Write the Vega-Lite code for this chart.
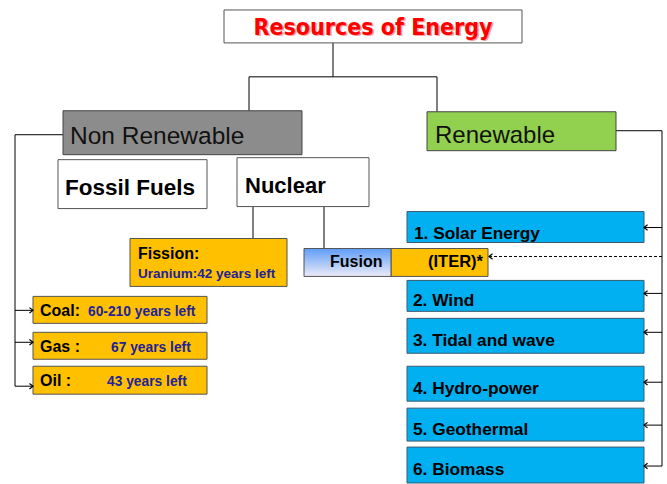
{
  "$schema": "https://vega.github.io/schema/vega-lite/v6.json",
  "width": 667,
  "height": 484,
  "padding": 0,
  "autosize": {"type": "fit", "contains": "padding"},
  "background": "white",
  "config": {"view": {"stroke": null}},
  "datasets": {
    "boxes": [
      {"id": "title", "x": 224, "x2": 522, "y": 10, "y2": 43, "fill": "#ffffff", "stroke": "#555555"},
      {"id": "nonren", "x": 63, "x2": 302, "y": 111, "y2": 155, "fill": "#8c8c8c", "stroke": "#444444"},
      {"id": "ren", "x": 427, "x2": 616, "y": 112, "y2": 151, "fill": "#92d050", "stroke": "#444444"},
      {"id": "fossil", "x": 58, "x2": 207, "y": 160, "y2": 209, "fill": "#ffffff", "stroke": "#555555"},
      {"id": "nuclear", "x": 237, "x2": 369, "y": 158, "y2": 207, "fill": "#ffffff", "stroke": "#555555"},
      {"id": "fission", "x": 130, "x2": 287, "y": 239, "y2": 287, "fill": "#ffc000", "stroke": "#555555"},
      {"id": "iter", "x": 391, "x2": 488, "y": 249, "y2": 277, "fill": "#ffc000", "stroke": "#555555"},
      {"id": "coal", "x": 33, "x2": 207, "y": 297, "y2": 324, "fill": "#ffc000", "stroke": "#555555"},
      {"id": "gas", "x": 33, "x2": 207, "y": 333, "y2": 360, "fill": "#ffc000", "stroke": "#555555"},
      {"id": "oil", "x": 33, "x2": 207, "y": 367, "y2": 395, "fill": "#ffc000", "stroke": "#555555"},
      {"id": "solar", "x": 407, "x2": 644, "y": 212, "y2": 243, "fill": "#00b0f0", "stroke": "#3a5a70"},
      {"id": "wind", "x": 407, "x2": 644, "y": 281, "y2": 312, "fill": "#00b0f0", "stroke": "#3a5a70"},
      {"id": "tidal", "x": 407, "x2": 644, "y": 319, "y2": 354, "fill": "#00b0f0", "stroke": "#3a5a70"},
      {"id": "hydro", "x": 407, "x2": 644, "y": 367, "y2": 402, "fill": "#00b0f0", "stroke": "#3a5a70"},
      {"id": "geo", "x": 407, "x2": 644, "y": 409, "y2": 442, "fill": "#00b0f0", "stroke": "#3a5a70"},
      {"id": "bio", "x": 407, "x2": 644, "y": 448, "y2": 484, "fill": "#00b0f0", "stroke": "#3a5a70"}
    ],
    "fusion": [
      {"id": "fusion", "x": 304, "x2": 391, "y": 249, "y2": 277}
    ],
    "lines": [
      {"x": 333, "x2": 333, "y": 43, "y2": 77},
      {"x": 249, "x2": 437, "y": 77, "y2": 77},
      {"x": 249, "x2": 249, "y": 77, "y2": 111},
      {"x": 437, "x2": 437, "y": 77, "y2": 112},
      {"x": 616, "x2": 662, "y": 131, "y2": 131},
      {"x": 662, "x2": 662, "y": 131, "y2": 467},
      {"x": 63, "x2": 15, "y": 135, "y2": 135},
      {"x": 15, "x2": 15, "y": 135, "y2": 387},
      {"x": 253, "x2": 253, "y": 207, "y2": 239},
      {"x": 324, "x2": 324, "y": 207, "y2": 249},
      {"x": 15, "x2": 33, "y": 311, "y2": 311},
      {"x": 15, "x2": 33, "y": 343, "y2": 343},
      {"x": 15, "x2": 33, "y": 387, "y2": 387},
      {"x": 662, "x2": 644, "y": 228, "y2": 228},
      {"x": 662, "x2": 644, "y": 294, "y2": 294},
      {"x": 662, "x2": 644, "y": 333, "y2": 333},
      {"x": 662, "x2": 644, "y": 383, "y2": 383},
      {"x": 662, "x2": 644, "y": 426, "y2": 426},
      {"x": 662, "x2": 644, "y": 467, "y2": 467}
    ],
    "dashed": [
      {"x": 662, "x2": 489, "y": 257, "y2": 257}
    ],
    "arrows": [
      {"x": 33, "y": 311, "shape": "M -1.3 -1 L 0 0 L -1.3 1"},
      {"x": 33, "y": 343, "shape": "M -1.3 -1 L 0 0 L -1.3 1"},
      {"x": 33, "y": 387, "shape": "M -1.3 -1 L 0 0 L -1.3 1"},
      {"x": 644, "y": 228, "shape": "M 1.3 -1 L 0 0 L 1.3 1"},
      {"x": 644, "y": 294, "shape": "M 1.3 -1 L 0 0 L 1.3 1"},
      {"x": 644, "y": 333, "shape": "M 1.3 -1 L 0 0 L 1.3 1"},
      {"x": 644, "y": 383, "shape": "M 1.3 -1 L 0 0 L 1.3 1"},
      {"x": 644, "y": 426, "shape": "M 1.3 -1 L 0 0 L 1.3 1"},
      {"x": 644, "y": 467, "shape": "M 1.3 -1 L 0 0 L 1.3 1"},
      {"x": 489, "y": 257, "shape": "M 1.3 -1 L 0 0 L 1.3 1"}
    ],
    "title": [
      {"x": 373, "y": 35, "text": "Resources of Energy"}
    ],
    "plain": [
      {"x": 70, "y": 144, "text": "Non Renewable", "size": 24.5},
      {"x": 435, "y": 143, "text": "Renewable", "size": 24}
    ],
    "bold": [
      {"x": 65, "y": 195, "text": "Fossil Fuels", "size": 22.5, "color": "#000000"},
      {"x": 245, "y": 193, "text": "Nuclear", "size": 22, "color": "#000000"},
      {"x": 138, "y": 260, "text": "Fission:", "size": 16, "color": "#000000"},
      {"x": 138, "y": 279, "text": "Uranium:42 years left", "size": 13.5, "color": "#22229a"},
      {"x": 330, "y": 268, "text": "Fusion", "size": 16, "color": "#000000"},
      {"x": 428, "y": 268, "text": "(ITER)*", "size": 16.5, "color": "#000000"},
      {"x": 40, "y": 317, "text": "Coal:", "size": 16, "color": "#000000"},
      {"x": 88, "y": 317, "text": "60-210 years left", "size": 13.8, "color": "#22229a"},
      {"x": 40, "y": 353, "text": "Gas :", "size": 16, "color": "#000000"},
      {"x": 111, "y": 353, "text": "67 years left", "size": 13.8, "color": "#22229a"},
      {"x": 40, "y": 387, "text": "Oil   :", "size": 16, "color": "#000000"},
      {"x": 107, "y": 387, "text": "43 years left", "size": 13.8, "color": "#22229a"},
      {"x": 414, "y": 239, "text": "1. Solar Energy", "size": 17.3, "color": "#000000"},
      {"x": 413, "y": 307, "text": "2. Wind", "size": 17.3, "color": "#000000"},
      {"x": 413, "y": 347, "text": "3. Tidal and wave", "size": 17.3, "color": "#000000"},
      {"x": 413, "y": 395, "text": "4. Hydro-power", "size": 17.3, "color": "#000000"},
      {"x": 413, "y": 436, "text": "5. Geothermal", "size": 17.3, "color": "#000000"},
      {"x": 413, "y": 476, "text": "6. Biomass", "size": 17.3, "color": "#000000"}
    ]
  },
  "encoding": {
    "x": {"field": "x", "type": "quantitative", "axis": null, "scale": {"domain": [0, 667], "nice": false, "zero": false}},
    "y": {"field": "y", "type": "quantitative", "axis": null, "scale": {"domain": [0, 484], "nice": false, "zero": false, "reverse": true}}
  },
  "layer": [
    {
      "data": {"name": "lines"},
      "mark": {"type": "rule", "color": "#000000", "strokeWidth": 1},
      "encoding": {"x2": {"field": "x2"}, "y2": {"field": "y2"}}
    },
    {
      "data": {"name": "dashed"},
      "mark": {"type": "rule", "color": "#000000", "strokeWidth": 1, "strokeDash": [3, 2]},
      "encoding": {"x2": {"field": "x2"}, "y2": {"field": "y2"}}
    },
    {
      "data": {"name": "boxes"},
      "mark": {"type": "rect", "strokeWidth": 1},
      "encoding": {
        "x2": {"field": "x2"},
        "y2": {"field": "y2"},
        "color": {"field": "fill", "type": "nominal", "scale": null},
        "stroke": {"field": "stroke", "type": "nominal", "scale": null}
      }
    },
    {
      "data": {"name": "fusion"},
      "mark": {
        "type": "rect",
        "stroke": "#555555",
        "strokeWidth": 1,
        "fill": {
          "gradient": "linear",
          "x1": 0, "y1": 0, "x2": 0, "y2": 1,
          "stops": [
            {"offset": 0, "color": "#5f9df7"},
            {"offset": 1, "color": "#ecebf7"}
          ]
        }
      },
      "encoding": {"x2": {"field": "x2"}, "y2": {"field": "y2"}}
    },
    {
      "data": {"name": "arrows"},
      "mark": {"type": "point", "filled": false, "stroke": "#000000", "strokeWidth": 1.2, "size": 30, "opacity": 1},
      "encoding": {"shape": {"field": "shape", "type": "nominal", "scale": null}}
    },
    {
      "data": {"name": "title"},
      "mark": {"type": "text", "font": "DejaVu Sans Condensed, sans-serif", "fontWeight": "bold", "fontSize": 23, "align": "center", "baseline": "alphabetic", "color": "#f3a3a3", "dx": 1.5, "dy": 1.5},
      "encoding": {"text": {"field": "text"}}
    },
    {
      "data": {"name": "title"},
      "mark": {"type": "text", "font": "DejaVu Sans Condensed, sans-serif", "fontWeight": "bold", "fontSize": 23, "align": "center", "baseline": "alphabetic", "color": "#ff0000"},
      "encoding": {"text": {"field": "text"}}
    },
    {
      "data": {"name": "plain"},
      "mark": {"type": "text", "font": "Liberation Sans, Arial, sans-serif", "align": "left", "baseline": "alphabetic", "color": "#111111"},
      "encoding": {"text": {"field": "text"}, "size": {"field": "size", "type": "quantitative", "scale": null}}
    },
    {
      "data": {"name": "bold"},
      "mark": {"type": "text", "font": "Liberation Sans, Arial, sans-serif", "fontWeight": "bold", "align": "left", "baseline": "alphabetic"},
      "encoding": {
        "text": {"field": "text"},
        "size": {"field": "size", "type": "quantitative", "scale": null},
        "color": {"field": "color", "type": "nominal", "scale": null}
      }
    }
  ]
}
